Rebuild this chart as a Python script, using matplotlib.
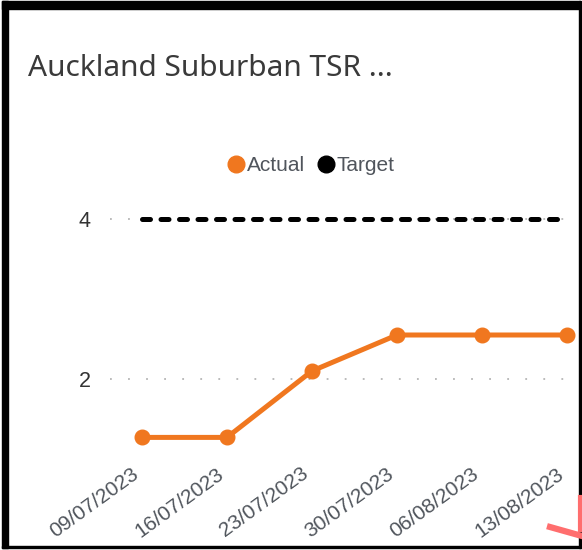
#!/usr/bin/env python3
"""Power BI style line card: Auckland Suburban TSR, actual vs target."""

import matplotlib

matplotlib.use("Agg")
import matplotlib.pyplot as plt  # noqa: E402
from matplotlib.lines import Line2D  # noqa: E402
from matplotlib.patches import Rectangle  # noqa: E402
from matplotlib.transforms import ScaledTranslation  # noqa: E402

W, H, DPI = 582, 550, 100

weeks = ["09/07/2023", "16/07/2023", "23/07/2023", "30/07/2023", "06/08/2023", "13/08/2023"]
actual = [1.27, 1.27, 2.10, 2.55, 2.55, 2.55]
target = [4, 4, 4, 4, 4, 4]
yticks = [2, 4]

ORANGE = "#F0771F"
TEXT = "#50555c"
plt.rcParams["font.family"] = ["Liberation Sans", "DejaVu Sans"]


def fx(px):
    return px / W


def fy(py):
    return 1 - py / H


fig = plt.figure(figsize=(W / DPI, H / DPI), dpi=DPI)

# plot area in pixel terms: x 110..580, y 195..450
ax = fig.add_axes([fx(110), fy(450), fx(580) - fx(110), fy(195) - fy(450)])
x = list(range(len(weeks)))

ax.plot(x, target, color="black", linewidth=3.6, dashes=(1.6, 2.1),
        dash_capstyle="round", zorder=3, clip_on=False)
ax.plot(x, actual, color=ORANGE, linewidth=3.6, marker="o", markersize=10.5,
        solid_capstyle="round", zorder=4, clip_on=False)

ax.set_xlim(-0.376, 5.153)
ax.set_ylim(1.1125, 4.3)
ax.set_yticks(yticks)
ax.set_yticklabels([str(v) for v in yticks], fontsize=15.5, color="#333333")
ax.set_xticks([])
ax.tick_params(axis="y", length=0, pad=14)
ax.yaxis.grid(True, color="#b5b5b5", linewidth=1.3, linestyle=(0, (1, 9)))
ax.set_axisbelow(True)
for s in ax.spines.values():
    s.set_visible(False)

# rotated category labels, top-right end just left of each point
lab_tf = ax.get_xaxis_transform() + ScaledTranslation(-11 / DPI, -14 / DPI, fig.dpi_scale_trans)
for i, w in zip(x, weeks):
    ax.text(i, 0, w, transform=lab_tf, fontsize=15, color=TEXT, rotation=36,
            ha="right", va="top", rotation_mode="anchor")

fig.text(fx(28), fy(68), "Auckland Suburban TSR ...", fontsize=21.5,
         family=["Noto Sans", "DejaVu Sans"], color="#3a3a3a", va="center", ha="left")

handles = [
    Line2D([], [], linestyle="none", marker="o", markersize=12, color=ORANGE, label="Actual"),
    Line2D([], [], linestyle="none", marker="o", markersize=12, color="black", label="Target"),
]
fig.legend(handles=handles, loc="center", bbox_to_anchor=(fx(311), fy(166)), ncol=2,
           frameon=False, fontsize=15, labelcolor=TEXT, handlelength=0.8,
           handletextpad=0.1, columnspacing=0.6, borderpad=0)

# card frame (heavy top/left, thin right/bottom)
for (x0, y0, w, h) in [(2, 1, 578, 8), (2, 1, 6, 547), (579, 1, 2, 547), (2, 546, 579, 2)]:
    fig.add_artist(Rectangle((fx(x0), fy(y0 + h)), fx(w), h / H, color="black",
                             transform=fig.transFigure, zorder=10))

# stray red pen stroke bottom right
fig.add_artist(Line2D([fx(550), fx(582)], [fy(527), fy(536)], color="#ff6e6e",
                      linewidth=4.5, transform=fig.transFigure, zorder=11))
fig.add_artist(Line2D([fx(580), fx(580)], [fy(497), fy(530)], color="#ff6e6e",
                      linewidth=3, transform=fig.transFigure, zorder=11))

fig.savefig("out.png", dpi=DPI)
